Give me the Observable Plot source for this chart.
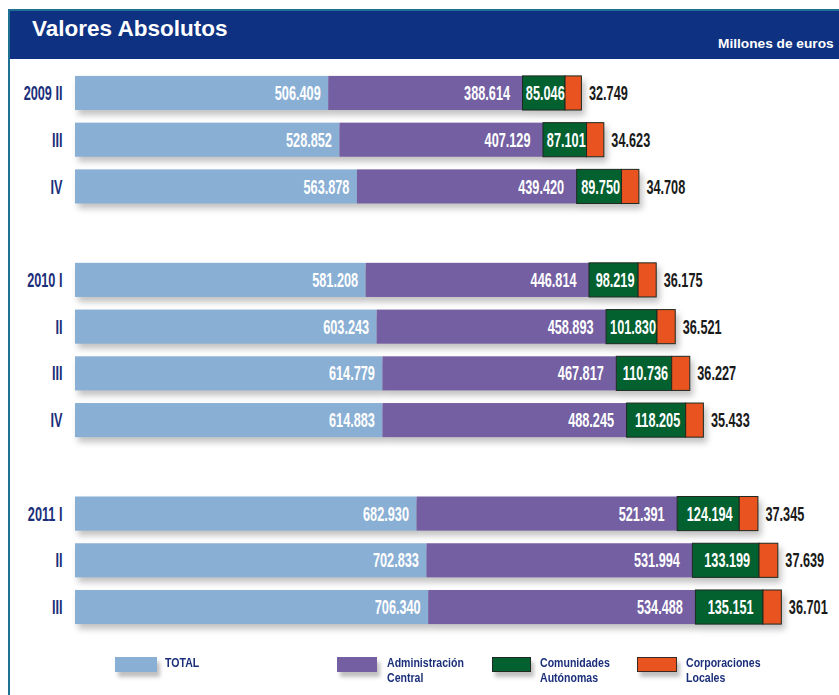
<!DOCTYPE html>
<html><head><meta charset="utf-8">
<script src="https://cdn.jsdelivr.net/npm/d3@7"></script>
<script src="https://cdn.jsdelivr.net/npm/@observablehq/plot@0.6"></script>
<style>
body{margin:0;background:#fff;}
#wrap{position:relative;width:839px;height:695px;overflow:hidden;}
#frame{position:absolute;left:8px;top:9px;width:831px;height:686px;border-left:2px solid #1f7194;border-top:2px solid #1f7194;box-sizing:border-box;}
#header{position:absolute;left:10px;top:11px;width:829px;height:48px;background:#0e3182;}
#title{position:absolute;left:32px;top:16px;color:#fff;font:bold 22.5px "Liberation Sans",sans-serif;}
#unit{position:absolute;left:718px;top:36px;color:#fff;font:bold 13.7px "Liberation Sans",sans-serif;white-space:nowrap;}
#chart{position:absolute;left:0;top:0;}
.leg{position:absolute;top:656px;font:bold 12px "Liberation Sans",sans-serif;color:#1b2f7a;line-height:15px;transform:scaleX(0.88);transform-origin:left top;white-space:nowrap;}
.sw{position:absolute;top:657px;height:15px;box-sizing:border-box;box-shadow:3px 5px 4px rgba(0,0,0,0.25);}
</style></head>
<body>
<div id="wrap">
  <div id="frame"></div>
  <div id="chart"></div>
  <div id="header"></div>
  <div id="title">Valores Absolutos</div>
  <div id="unit">Millones de euros</div>
  <div id="legend"></div>
</div>
<script>
// ---- data (millones de euros) ----
const periodKeys   = ["2009-II","2009-III","2009-IV","2010-I","2010-II","2010-III","2010-IV","2011-I","2011-II","2011-III"];
const periodLabels = ["2009 II","III","IV","2010 I","II","III","IV","2011 I","II","III"];
const total = [506409, 528852, 563878, 581208, 603243, 614779, 614883, 682930, 702833, 706340];
const admin = [388614, 407129, 439420, 446814, 458893, 467817, 488245, 521391, 531994, 534488];
const ccaa  = [85046, 87101, 89750, 98219, 101830, 110736, 118205, 124194, 133199, 135151];
const local = [32749, 34623, 34708, 36175, 36521, 36227, 35433, 37345, 37639, 36701];
const seriesNames = ["TOTAL", "Administración Central", "Comunidades Autónomas", "Corporaciones Locales"];
const legendLabels = [["TOTAL"], ["Administración", "Central"], ["Comunidades", "Autónomas"], ["Corporaciones", "Locales"]];
const seriesColors = ["#8aafd4", "#745fa3", "#03602f", "#e8531f"];
const seriesStroke = [null, null, "#1e2a22", "#3a2a22"];

const values = [total, admin, ccaa, local];
const long = [];
periodKeys.forEach((k, i) => {
  seriesNames.forEach((s, j) => long.push({key: k, series: s, value: values[j][i]}));
});
// y domain with blank slots between years
const yDomain = ["2009-II","2009-III","2009-IV","gap1","2010-I","2010-II","2010-III","2010-IV","gap2","2011-I","2011-II","2011-III"];
const labelOf = new Map(periodKeys.map((k, i) => [k, periodLabels[i]]));

const fmt = d3.formatLocale({decimal: ",", thousands: ".", grouping: [3], currency: ["", " €"]}).format(",d");
const numFont = '"Liberation Sans",sans-serif';
const fs = 20.5;

const plot = Plot.plot({
  width: 839,
  height: 695,
  marginLeft: 75,
  marginRight: 14,
  marginTop: 69.6,
  marginBottom: 64.6,
  style: {background: "transparent", fontFamily: numFont},
  x: {domain: [0, 1500000], axis: null},
  y: {domain: yDomain, paddingInner: 0.27, paddingOuter: 0.135, round: false, axis: null},
  color: {domain: seriesNames, range: seriesColors},
  marks: [
    Plot.barX(long, Plot.stackX({x: "value", y: "key", z: "series", fill: "series",
      stroke: d => d.series === seriesNames[2] || d.series === seriesNames[3] ? "#1e2a22" : "none",
      strokeWidth: 1})),
    Plot.text(long, Plot.stackX2({x: "value", y: "key", z: "series",
      text: d => d.series === seriesNames[0] ? fmt(d.value) : null,
      textAnchor: "end", dx: -8, fill: "white", fontSize: fs, fontWeight: "bold"})),
    Plot.text(long, Plot.stackX2({x: "value", y: "key", z: "series",
      text: d => d.series === seriesNames[1] ? fmt(d.value) : null,
      textAnchor: "end", dx: -13, fill: "white", fontSize: fs, fontWeight: "bold"})),
    Plot.text(long, Plot.stackX({x: "value", y: "key", z: "series",
      text: d => d.series === seriesNames[2] ? fmt(d.value) : null,
      dx: 1, fill: "white", fontSize: fs, fontWeight: "bold"})),
    Plot.text(long, Plot.stackX2({x: "value", y: "key", z: "series",
      text: d => d.series === seriesNames[3] ? fmt(d.value) : null,
      textAnchor: "start", dx: 7, fill: "#1a1a1a", fontSize: fs, fontWeight: "bold"})),
    Plot.axisY({ticks: periodKeys, tickSize: 0, tickPadding: 13, tickFormat: k => labelOf.get(k),
      fill: "#1b2f7a", fontSize: fs, fontWeight: "bold", label: null})
  ]
});
plot.querySelectorAll('g[aria-label="bar"]').forEach(g => g.style.filter = "drop-shadow(3px 5px 3px rgba(0,0,0,0.24))");
// condensed look: squeeze text horizontally around its anchor
plot.querySelectorAll('g[aria-label="text"] text, g[aria-label="y-axis tick label"] text').forEach(t => {
  t.setAttribute("transform", (t.getAttribute("transform") || "") + " scale(0.62,1)");
});
document.getElementById("chart").appendChild(plot);

// legend
const legPos = [[115, 42, 165], [337, 40, 387], [492, 39, 540], [637, 40, 686]];
const leg = document.getElementById("legend");
seriesNames.forEach((s, j) => {
  const sw = document.createElement("div");
  sw.className = "sw";
  sw.style.left = legPos[j][0] + "px";
  sw.style.width = legPos[j][1] + "px";
  sw.style.background = seriesColors[j];
  if (seriesStroke[j]) sw.style.border = "1px solid " + seriesStroke[j];
  leg.appendChild(sw);
  const t = document.createElement("div");
  t.className = "leg";
  t.style.left = legPos[j][2] + "px";
  t.innerHTML = legendLabels[j].join("<br>");
  leg.appendChild(t);
});
</script>
</body></html>
